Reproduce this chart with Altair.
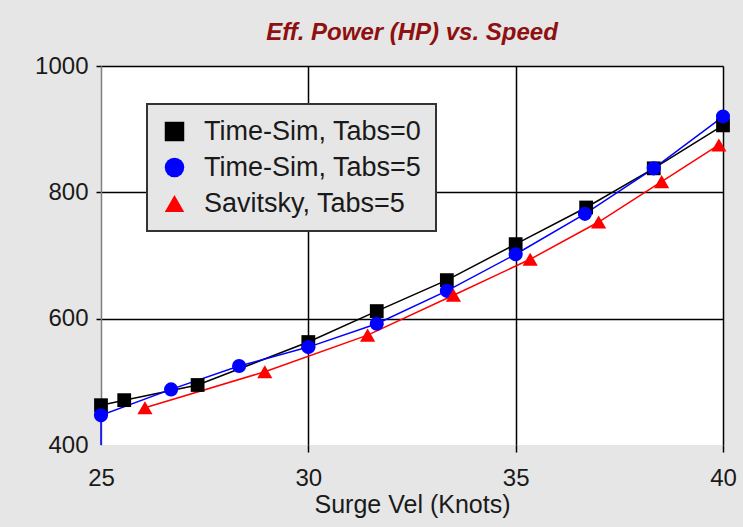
import altair as alt
import pandas as pd

series_names = ["Time-Sim, Tabs=0", "Time-Sim, Tabs=5", "Savitsky, Tabs=5"]
series_colors = ["#000000", "#0000ff", "#ff0000"]
series_shapes = ["square", "circle", "triangle-up"]
series_sizes = [190, 200, 230]

ts0_speed = [25.0, 25.56, 27.33, 30.0, 31.65, 33.34, 35.0, 36.7, 38.33, 40.0]
ts0_power = [463, 471, 495, 563, 612, 661, 718, 776, 838, 906]

ts5_lead_speed = [25.0]
ts5_lead_power = [400]
ts5_speed = [25.0, 26.69, 28.33, 30.0, 31.65, 33.34, 35.0, 36.67, 38.33, 40.0]
ts5_power = [447, 488, 525, 555, 592, 644, 702, 766, 838, 920]

sav_speed = [26.06, 28.95, 31.43, 33.5, 35.35, 37.0, 38.52, 39.9]
sav_power = [459, 516, 574, 637, 694, 753, 817, 875]

x_ticks = [25, 30, 35, 40]
y_ticks = [400, 600, 800, 1000]

rows = []
def add(k, xs, ys, marker):
    for xv, yv in zip(xs, ys):
        rows.append({"series": series_names[k], "speed": xv, "power": yv,
                     "idx": len(rows), "marker": marker,
                     "lcolor": series_colors[k], "msize": series_sizes[k]})

add(0, ts0_speed, ts0_power, True)
add(1, ts5_lead_speed, ts5_lead_power, False)
add(1, ts5_speed, ts5_power, True)
add(2, sav_speed, sav_power, True)
df = pd.DataFrame(rows)

FONT = "Liberation Sans"

x_enc = alt.X(
    "speed:Q",
    scale=alt.Scale(domain=[25, 40], nice=False, zero=False),
    axis=alt.Axis(
        values=x_ticks, title="Surge Vel (Knots)", grid=True, domain=False,
        gridColor="#000000", gridWidth=1.5,
        gridOpacity={"condition": {"test": "datum.value == 25", "value": 0}, "value": 1},
        tickOpacity={"condition": {"test": "datum.value == 25", "value": 0}, "value": 1},
        tickColor="#000000", tickSize=7, tickWidth=1.5,
        labelFont=FONT, labelFontSize=24, labelColor="#1a1a1a", labelPadding=14,
        titleFont=FONT, titleFontSize=25, titleFontWeight="normal",
        titleColor="#1a1a1a", titlePadding=2, labelFlush=False,
    ),
)
y_enc = alt.Y(
    "power:Q",
    scale=alt.Scale(domain=[400, 1000], nice=False, zero=False),
    axis=alt.Axis(
        values=y_ticks, title=None, grid=True, format="d",
        domainColor="#808080", domainWidth=1.5,
        gridColor="#000000", gridWidth=1.5,
        gridOpacity={"condition": {"test": "datum.value == 400", "value": 0}, "value": 1},
        tickOpacity={"condition": {"test": "datum.value == 400", "value": 0}, "value": 1},
        tickColor="#000000", tickSize=5, tickWidth=1.5,
        labelFont=FONT, labelFontSize=24, labelColor="#1a1a1a", labelPadding=8,
        labelFlush=False,
    ),
)

lines = alt.Chart(df).mark_line(strokeWidth=1.5).encode(
    x=x_enc, y=y_enc,
    stroke=alt.Stroke("lcolor:N", scale=None),
    detail="series:N",
    order="idx:Q",
)

leg = alt.Legend(title=None, orient="none", legendX=46, legendY=38)

points = alt.Chart(df).transform_filter("datum.marker").mark_point(
    filled=True, opacity=1
).encode(
    x=x_enc, y=y_enc,
    color=alt.Color("series:N", scale=alt.Scale(domain=series_names, range=series_colors),
                    legend=leg),
    shape=alt.Shape("series:N", scale=alt.Scale(domain=series_names, range=series_shapes),
                    legend=leg),
    size=alt.Size("msize:Q", scale=None),
    order="idx:Q",
)

chart = alt.layer(lines, points).properties(
    width=622, height=379,
    title=alt.TitleParams(
        "Eff. Power (HP) vs. Speed", font=FONT, fontSize=24, fontStyle="italic",
        fontWeight="bold", color="#8E1010", anchor="middle", offset=19,
        baseline="bottom", dy=34,
    ),
    background="#e6e6e6",
    padding={"left": 101, "top": 66, "right": 20, "bottom": 82},
    autosize=alt.AutoSizeParams(type="none"),
).configure_view(
    fill="#ffffff", strokeWidth=0,
).configure_legend(
    fillColor="#e6e6e6", strokeColor="#333333", strokeWidth=2,
    padding=14, rowPadding=8, labelFont=FONT, labelFontSize=27,
    labelColor="#1a1a1a", symbolSize=380, symbolStrokeWidth=0,
    labelOffset=16, labelLimit=400,
)

chart.save("out.html", embed_options={"renderer": "svg", "actions": False})
